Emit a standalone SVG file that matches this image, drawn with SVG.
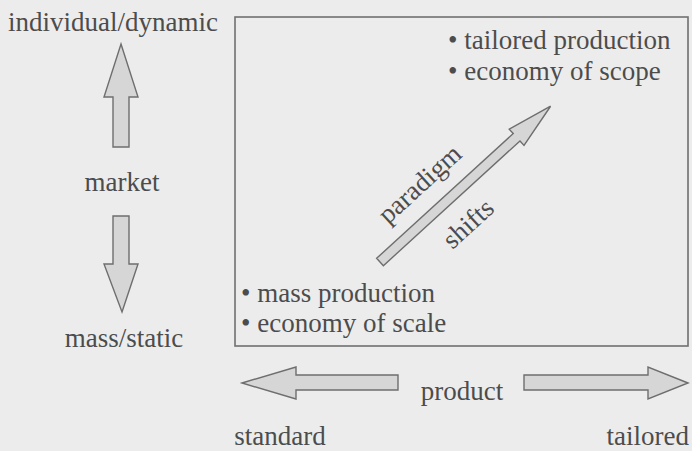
<svg xmlns="http://www.w3.org/2000/svg" width="692" height="451" viewBox="0 0 692 451">
<style>
text{font-family:"Liberation Serif","Times New Roman",serif;font-size:27px;fill:#4c4c4c}
.c{text-anchor:middle}
.e{text-anchor:end}
.arr{fill:#d6d6d6;stroke:#6e6e6e;stroke-width:1.4;stroke-linejoin:miter}
.box{fill:none;stroke:#707070;stroke-width:1.6}
</style>
<rect width="692" height="451" fill="#ececec"/>
<g id="frame">
<rect class="box" x="235" y="17" width="453" height="329"/>
</g>
<g id="top-right">
<text x="448" y="49">• tailored production</text>
<text x="448" y="80">• economy of scope</text>
</g>
<g id="bottom-left">
<text x="241" y="302">• mass production</text>
<text x="241" y="332">• economy of scale</text>
</g>
<g id="market-axis">
<text class="c" x="113" y="31">individual/dynamic</text>
<text class="c" x="122" y="191">market</text>
<text class="c" x="124" y="347">mass/static</text>
</g>
<g id="product-axis">
<text class="c" x="462" y="400">product</text>
<text class="c" x="280" y="445">standard</text>
<text class="e" x="689" y="445">tailored</text>
</g>
<g id="connectors">
<polygon class="arr" points="121,44 138,97 129,97 129,147 113,147 113,97 104,97"/>
<polygon class="arr" points="122,312 138,264 129,264 129,216 113,216 113,264 104,264"/>
<polygon class="arr" points="242,383 296,367 296,375 398,375 398,390 296,390 296,399"/>
<polygon class="arr" points="688,383 648,367 648,375 524,375 524,390 648,390 648,399"/>
<g transform="translate(380,262) rotate(-42.4)">
<polygon class="arr" points="0,-5 185,-5 185,-11 231,0 185,11 185,5 0,5"/>
<text class="c" x="82" y="-22">paradigm</text>
<text class="c" x="91" y="40">shifts</text>
</g>
</g>
</svg>
